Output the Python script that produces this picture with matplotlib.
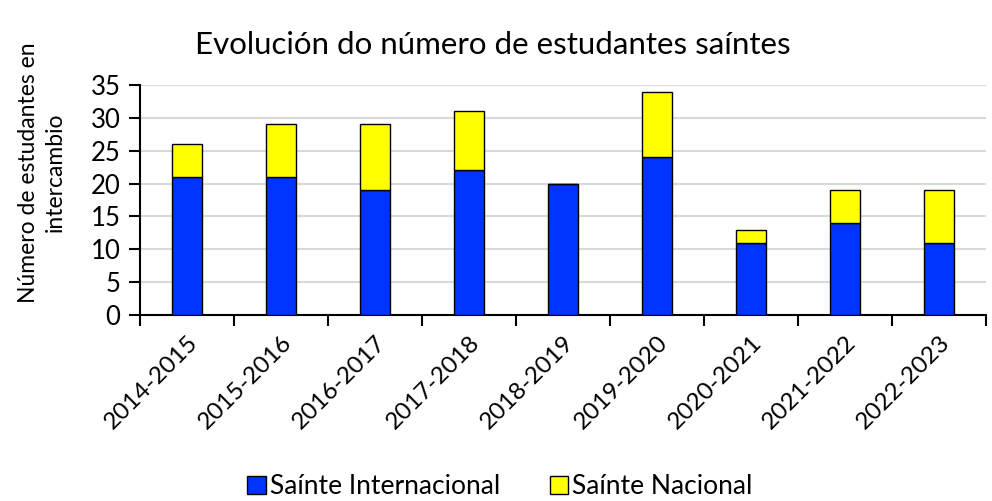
import matplotlib
matplotlib.use("Agg")
import matplotlib.pyplot as plt
from matplotlib.patches import Patch
import numpy as np

plt.rcParams['font.family'] = ['Lato', 'DejaVu Sans']

categories = ["2014-2015", "2015-2016", "2016-2017", "2017-2018", "2018-2019",
              "2019-2020", "2020-2021", "2021-2022", "2022-2023"]
internacional = [21, 21, 19, 22, 20, 24, 11, 14, 11]
nacional = [5, 8, 10, 9, 0, 10, 2, 5, 8]

blue = "#0033FF"
yellow = "#FFFF00"

fig = plt.figure(figsize=(9.92, 5.01), dpi=100)
ax = fig.add_axes([0.1411, 0.3713, 0.853, 0.459])

x = np.arange(len(categories))
w = 0.32
ax.bar(x, internacional, w, color=blue, edgecolor="black", linewidth=1.0, zorder=3,
       label="Saínte Internacional")
ax.bar(x, nacional, w, bottom=internacional, color=yellow, edgecolor="black",
       linewidth=1.0, zorder=3, label="Saínte Nacional")

ax.set_xlim(-0.5, len(categories) - 0.5)
ax.set_ylim(0, 35)
ax.set_yticks(range(0, 36, 5))
ax.yaxis.grid(True, color="#D9D9D9", linewidth=1.5, zorder=0)
ax.set_axisbelow(True)

ax.set_xticks(x)
ax.set_xticklabels(categories, rotation=45, ha="right", rotation_mode="anchor",
                   fontsize=17.5)
ax.set_xticks(np.arange(-0.5, len(categories) + 0.5, 1), minor=True)
ax.tick_params(axis="x", which="major", length=0, pad=12)
ax.tick_params(axis="x", which="minor", length=8, width=1.5, direction="out")
ax.tick_params(axis="y", length=8, width=1.5, labelsize=18.5, pad=6)

for s in ["top", "right"]:
    ax.spines[s].set_visible(False)
for s in ["left", "bottom"]:
    ax.spines[s].set_linewidth(1.5)

ax.set_ylabel("Número de estudantes en\nintercambio", fontsize=16.5,
              linespacing=1.35)
ax.yaxis.set_label_coords(-0.088, 0.62)
fig.text(0.497, 0.91, "Evolución do número de estudantes saíntes", ha="center",
         va="center", fontsize=22.5)

handles = [Patch(facecolor=blue, edgecolor="black", label="Saínte Internacional"),
           Patch(facecolor=yellow, edgecolor="black", label="Saínte Nacional")]
fig.legend(handles=handles, loc="center", bbox_to_anchor=(0.504, 0.028), ncol=2,
           frameon=False, fontsize=19, handlelength=0.7, handleheight=0.7,
           handletextpad=0.15, columnspacing=1.9)

fig.savefig("out.png", dpi=100)
